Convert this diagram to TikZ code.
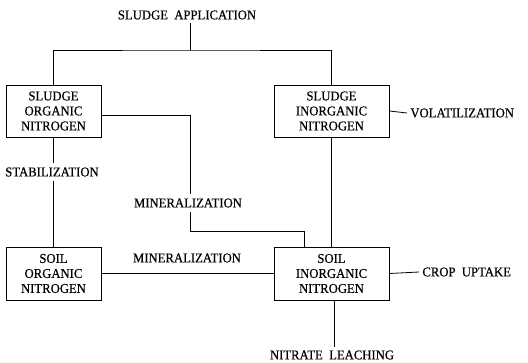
\documentclass[tikz,border=0pt]{standalone}
\usepackage{fontspec}
\setmainfont{Liberation Serif}[FakeStretch=0.94,FakeBold=0.4]
\begin{document}
\begin{tikzpicture}[x=1pt,y=-1pt,line width=0.8pt,
  box/.style={draw,align=center,inner sep=0pt,font=\fontsize{13.5}{15}\selectfont},
  lbl/.style={font=\fontsize{13.5}{15}\selectfont,inner sep=3pt}]
\useasboundingbox (0,0) rectangle (528,363);
\node[box,minimum width=95pt,minimum height=52pt] (son) at (53.5,111) {SLUDGE\\ORGANIC\\NITROGEN};
\node[box,minimum width=115pt,minimum height=52pt] (sin) at (331.5,111) {SLUDGE\\INORGANIC\\NITROGEN};
\node[box,minimum width=95pt,minimum height=53pt] (oon) at (53.5,273.5) {SOIL\\ORGANIC\\NITROGEN};
\node[box,minimum width=115pt,minimum height=53pt] (oin) at (331.5,273.5) {SOIL\\INORGANIC\\NITROGEN};
\node[lbl] (app) at (187,15) {SLUDGE\ \ APPLICATION};
\node[lbl] (vol) at (407,113) [anchor=west] {VOLATILIZATION};
\node[lbl] (crop) at (419,272) [anchor=west] {CROP\ \ UPTAKE};
\node[lbl] (leach) at (332,355) {NITRATE\ \ LEACHING};
\node[lbl,inner sep=4pt] (stab) at (52,172) {STABILIZATION};
\node[lbl,inner sep=4pt] (min1) at (188,203) {MINERALIZATION};
\node[lbl] (min2) at (187,258) {MINERALIZATION};
\coordinate (j) at (190,50);
\coordinate (lt) at ([xshift=2.5pt]oin.south);
\draw (app.south -| j) -- (j);
\draw (son.north) |- (j) -| (sin.north);
\draw ([yshift=-4pt]son.east) -| (min1.north -| j);
\draw (min1.south -| j) |- (304,231) -- ([xshift=-27.5pt]oin.north);
\draw (sin.south) -- (oin.north);
\draw (son.south) -- (stab.north -| son.south);
\draw (stab.south -| oon.north) -- (oon.north);
\draw (oon.east) -- (oin.west);
\draw (sin.east) -- (vol.west);
\draw (oin.east) -- (crop.west);
\draw (lt) -- (leach.north -| lt);
\end{tikzpicture}
\end{document}
